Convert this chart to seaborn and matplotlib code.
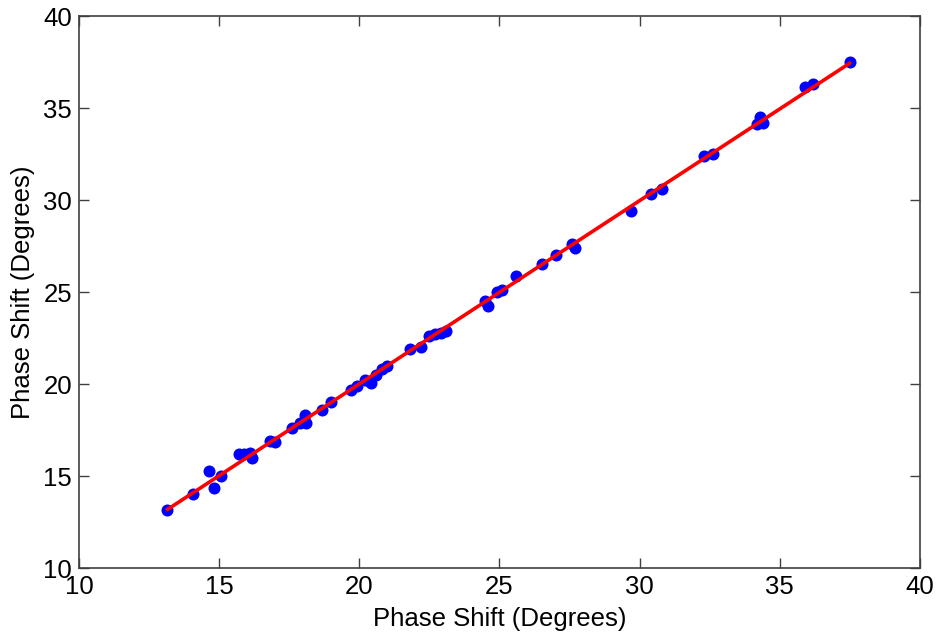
import numpy as np
import pandas as pd
import matplotlib
matplotlib.use("Agg")
import matplotlib.pyplot as plt
import seaborn as sns

x_vals = [13.15, 14.05, 14.62, 14.8, 15.05, 15.7, 15.9, 16.1, 16.16, 16.8, 16.98,
          17.6, 17.9, 18.06, 18.1, 18.66, 19.0, 19.7, 19.9, 20.2, 20.4, 20.6, 20.8,
          21.0, 21.8, 22.2, 22.5, 22.7, 22.9, 23.1, 24.5, 24.6, 24.9, 25.1, 25.6,
          26.5, 27.0, 27.6, 27.7, 29.7, 30.4, 30.8, 32.3, 32.6, 34.2, 34.3, 34.4,
          35.9, 36.2, 37.5]
y_vals = [13.16, 14.03, 15.28, 14.35, 15.0, 16.2, 16.2, 16.26, 16.0, 16.9, 16.86,
          17.6, 17.9, 18.33, 17.9, 18.6, 19.0, 19.7, 19.9, 20.2, 20.05, 20.5, 20.8,
          21.0, 21.9, 22.0, 22.6, 22.7, 22.75, 22.9, 24.5, 24.25, 25.0, 25.1, 25.85,
          26.5, 27.0, 27.6, 27.4, 29.4, 30.3, 30.6, 32.4, 32.5, 34.15, 34.5, 34.2,
          36.15, 36.3, 37.5]

ticks = [10, 15, 20, 25, 30, 35, 40]
label = "Phase Shift (Degrees)"

df = pd.DataFrame({"x": x_vals, "y": y_vals})

sns.set_theme(style="white")
plt.rcParams["font.family"] = ["Liberation Sans", "DejaVu Sans"]

fig = plt.figure(figsize=(9.37, 6.33), dpi=100)
ax = fig.add_axes([79 / 937, 1 - 568 / 633, (920 - 79) / 937, (568 - 16) / 633])

sns.regplot(data=df, x="x", y="y", ax=ax, ci=None, truncate=True,
            scatter_kws=dict(color="#0000ff", s=75, marker="o", linewidths=0,
                             alpha=1, zorder=2),
            line_kws=dict(color="#ff0000", lw=2.6, zorder=3))

ax.set_xlim(10, 40)
ax.set_ylim(10, 40)
ax.set_xticks(ticks)
ax.set_yticks(ticks)
ax.set_xlabel(label, fontsize=18.5, color="black", labelpad=6)
ax.set_ylabel(label, fontsize=18.5, color="black", labelpad=6)
ax.tick_params(direction="in", length=7, width=1, colors="#404040",
               labelcolor="black", labelsize=18.5, top=True, right=True,
               bottom=True, left=True, pad=5)
for s in ax.spines.values():
    s.set_color("#404040")
    s.set_linewidth(1.2)

fig.savefig("out.png", dpi=100, facecolor="white")
